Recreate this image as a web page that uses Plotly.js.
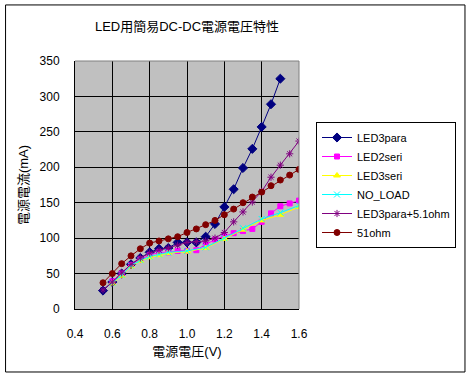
<!DOCTYPE html>
<html>
<head>
<meta charset="utf-8">
<script src="https://cdn.plot.ly/plotly-3.0.1.min.js"></script>
<style>html,body{margin:0;padding:0;background:#fff;}#chart{width:471px;height:378px;}</style>
</head>
<body>
<div id="chart"></div>
<script>
// Voltage grids (V)
const vFine = [0.55,0.6,0.65,0.7,0.75,0.8,0.85,0.9,0.95,1.0,1.05,1.1,1.15,1.2,1.25,1.3,1.35,1.4,1.45,1.5,1.55,1.6];
const vPara = [0.55,0.6,0.65,0.7,0.75,0.8,0.85,0.9,0.95,1.0,1.05,1.1,1.15,1.2,1.25,1.3,1.35,1.4,1.45,1.5];
const vSeri2 = [0.6,0.65,0.7,0.75,0.8,0.85,0.9,0.95,1.0,1.05,1.1,1.15,1.2,1.25,1.3,1.35,1.4,1.45,1.5,1.55,1.6];
const vSeri3 = [0.6,0.65,0.7,0.75,0.8,0.85,0.9,1.0,1.1,1.2,1.3,1.4,1.5,1.6];

// Currents (mA)
const led3para = [26,38,50,63,72,80,85,86,94,94,94,102,120,144,169,199,226,257,289,325];
const led2seri = [39,50,62,70,76,80,80,82,82,83,91,98,103,107,110,113,123,135,145,149,153];
const led3seri = [36,47,60,68,73,76,79,81,86,99,112,125,133,144];
const noLoad   = [37,48,61,69,74,77,80,82,87,100,114,127,136,146];
const led3para51 = [27,38,51,63,72,79,83,86,90,94,95,96,100,108,123,137,151,166,186,203,219,237];
const ohm51    = [37,50,64,75,85,93,96,99,102,108,113,119,125,133,141,150,158,165,174,182,189,197];

const names = ['LED3para','LED2seri','LED3seri','NO_LOAD','LED3para+5.1ohm','51ohm'];
const xTicks = [0.4,0.6,0.8,1.0,1.2,1.4,1.6];
const xTickText = ['0.4','0.6','0.8','1.0','1.2','1.4','1.6'];
const yTicks = [0,50,100,150,200,250,300,350];

const FONT = 'Liberation Sans, Arial, Noto Sans CJK JP, sans-serif';

function tr(x, y, name, color, symbol, size) {
  return {
    x: x, y: y, name: name, type: 'scatter', mode: 'lines+markers',
    line: {color: color, width: 1},
    marker: {color: color, symbol: symbol, size: size, line: {color: color, width: 1}}
  };
}

const data = [
  tr(vPara, led3para, names[0], '#000080', 'diamond', 7),
  tr(vSeri2, led2seri, names[1], '#FF00FF', 'square', 5),
  tr(vSeri3, led3seri, names[2], '#FFFF00', 'triangle-up', 6),
  tr(vSeri3, noLoad, names[3], '#00FFFF', 'x-thin-open', 6),
  tr(vFine, led3para51, names[4], '#800080', 'asterisk-open', 6),
  tr(vFine, ohm51, names[5], '#800000', 'circle', 6)
];

const layout = {
  width: 471, height: 378,
  margin: {l: 75, r: 172, t: 61, b: 69, pad: 0},
  paper_bgcolor: '#FFFFFF',
  plot_bgcolor: '#C0C0C0',
  font: {family: FONT, size: 12, color: '#000'},
  showlegend: true,
  title: {text: 'LED用簡易DC-DC電源電圧特性', font: {family: FONT, size: 13, color: '#000'},
          x: 0.5, xref: 'paper', xanchor: 'center', y: 0.931, yref: 'container', yanchor: 'middle'},
  xaxis: {
    range: [0.4, 1.6], tickvals: xTicks, ticktext: xTickText,
    showgrid: true, gridcolor: '#000', gridwidth: 1,
    showline: true, linecolor: '#000', linewidth: 1, zeroline: false,
    ticks: '', ticklabelstandoff: 14,
    tickfont: {family: FONT, size: 12, color: '#000'},
    title: {text: '電源電圧(V)', font: {family: FONT, size: 13, color: '#000'}, standoff: 6}
  },
  yaxis: {
    range: [0, 350], tickvals: yTicks,
    showgrid: true, gridcolor: '#000', gridwidth: 1,
    showline: true, linecolor: '#000', linewidth: 1, zeroline: false,
    ticks: '', ticklabelstandoff: 12,
    tickfont: {family: FONT, size: 12, color: '#000'},
    title: {text: '電源電流(mA)', font: {family: FONT, size: 13, color: '#000'}, standoff: 8}
  },
  legend: {
    xref: 'container', yref: 'container',
    x: 316 / 471, y: 1 - 122 / 378, xanchor: 'left', yanchor: 'top',
    bgcolor: '#FFFFFF', bordercolor: '#000', borderwidth: 1,
    font: {family: FONT, size: 11, color: '#000'},
    itemwidth: 30, tracegroupgap: 0
  },
  shapes: [
    {type: 'rect', xref: 'paper', yref: 'paper', x0: -0.310, x1: 1.741, y0: -0.254, y1: 1.226,
     line: {color: '#000', width: 1}, fillcolor: 'rgba(0,0,0,0)'},
    {type: 'line', xref: 'paper', yref: 'paper', x0: 0, x1: 1, y0: 1, y1: 1, line: {color: '#808080', width: 1}},
    {type: 'line', xref: 'paper', yref: 'paper', x0: 1, x1: 1, y0: 0, y1: 1, line: {color: '#808080', width: 1}}
  ]
};

Plotly.newPlot('chart', data, layout, {displayModeBar: false, responsive: false});
</script>
</body>
</html>
